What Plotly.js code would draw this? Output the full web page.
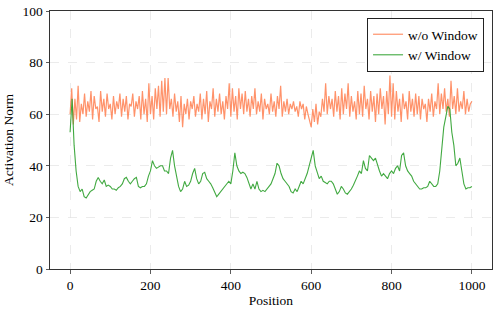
<!DOCTYPE html>
<html>
<head>
<meta charset="utf-8">
<script src="https://cdn.plot.ly/plotly-3.0.1.min.js"></script>
<style>html,body{margin:0;padding:0;background:#fff;}#chart{width:498px;height:311px;}</style>
</head>
<body>
<div id="chart"></div>
<script>
// w/o Window, sampled every 4 positions (0..1000)
const orangeStep = 4;
const orangeValues = [
60,70,56,66,58,71,57,64,60,68,
59,65,61,69,58,67,62,63,57,69,
61,66,59,68,62,64,58,67,60,65,
62,68,59,66,61,67,58,64,63,68,
59,65,62,67,58,69,60,66,57,72,
60,67,58,70,62,71,59,73,61,74,
60,74,62,66,59,68,61,65,57,67,
55,64,60,66,58,65,62,67,59,64,
61,68,58,66,60,69,57,65,62,70,
59,66,61,68,60,65,58,67,62,72,
59,70,61,67,58,70,62,68,60,69,
61,66,59,67,62,70,60,65,61,68,
58,66,62,64,60,68,61,65,59,67,
62,71,59,65,61,66,60,64,62,65,
61,63,59,65,62,64,58,63,60,57,
55,62,57,64,56,61,59,66,61,72,
60,67,62,66,59,69,61,67,58,70,
60,68,62,72,59,67,61,65,58,69,
60,68,59,71,62,66,58,69,61,67,
57,68,60,70,62,67,56,69,60,75,
59,72,58,69,61,66,57,68,62,65,
58,69,61,66,59,68,60,67,58,66,
62,64,57,66,61,68,59,65,62,72,
60,68,62,70,61,66,59,73,62,67,
60,70,61,65,62,69,60,66,61,64,
65
];
// w/ Window, sampled every 5 positions (0..1000)
const greenStep = 5;
const greenValues = [
53,66,48,38,32,30,31,28,27.5,29,30,30.5,31,34,35.5,34,33,34.5,32,32.5,
32,31,31,30.5,31.5,32,33,35,35.5,34,33,34,35,35.5,32,31.5,32,32,33,36,
38,42,40,39,39.5,40,40,38,38,37,43,46,40,36,32,30,31,34,32,32.5,
34,37,39,35,33,34,37,37.5,35,34,33,31.5,30,28,29,30,31,32,33,34,
33,38,45,40,38,37,37.5,37,35.5,33,31,33,31,34,31,30,30.5,30,31,32,
33,35,37,41,40,37,35,34,33,32,30,29.5,31,30,32,34,33,35,37,40,
43,46,40,37,35,36,34,33.5,33,34,34,33,31,29,30,32,31,29.5,29,30,
31,32.5,34,36,38,37,42,39,38,44,43,42,43,40,38,36,37,36,35,37,
38,37,39,40,38,44,45,40,38,37,36,34,33,32,31,31,31.5,31.5,32,34,
33,32,32,33,38,48,55,59,63,62,53,48,40,41,43,38,33,31,31.5,31.5,
32
];
const seriesNames = ["w/o Window", "w/ Window"];
const xTicks = [0, 200, 400, 600, 800, 1000];
const yTicks = [0, 20, 40, 60, 80, 100];

const xo = orangeValues.map((_, i) => i * orangeStep);
const xg = greenValues.map((_, i) => i * greenStep);

const font = {family: "Liberation Serif, Times New Roman, serif", color: "#000", size: 13.5};

const traces = [
  {x: xo, y: orangeValues, type: "scatter", mode: "lines", name: seriesNames[0],
   line: {color: "#ff7f50", width: 1.2}, opacity: 0.85},
  {x: xg, y: greenValues, type: "scatter", mode: "lines", name: seriesNames[1],
   line: {color: "#2ca02c", width: 1.1}, opacity: 0.9}
];

const axisCommon = {
  showline: true, linecolor: "#333", linewidth: 1, mirror: true,
  ticks: "outside", ticklen: 3.5, tickcolor: "#333", tickwidth: 0.8,
  showgrid: true, gridcolor: "#e3e3e3", griddash: "dash", gridwidth: 0.7,
  zeroline: false, tickfont: font
};

const layout = {
  width: 498, height: 311,
  margin: {l: 50, r: 6, t: 11, b: 42},
  paper_bgcolor: "#fff", plot_bgcolor: "#fff",
  font: font,
  showlegend: true,
  legend: {x: 0.982, y: 0.973, xanchor: "right", yanchor: "top",
    bordercolor: "#222", borderwidth: 1, bgcolor: "#fff",
    font: {family: font.family, size: 13.5, color: "#000"},
    tracegroupgap: 0, itemwidth: 30},
  xaxis: Object.assign({}, axisCommon, {range: [-50, 1050], tickvals: xTicks,
    title: {text: "Position", font: font, standoff: 3}}),
  yaxis: Object.assign({}, axisCommon, {range: [0, 100], tickvals: yTicks,
    title: {text: "Activation Norm", font: font, standoff: 5}})
};

Plotly.newPlot("chart", traces, layout, {displayModeBar: false, staticPlot: true});
</script>
</body>
</html>
